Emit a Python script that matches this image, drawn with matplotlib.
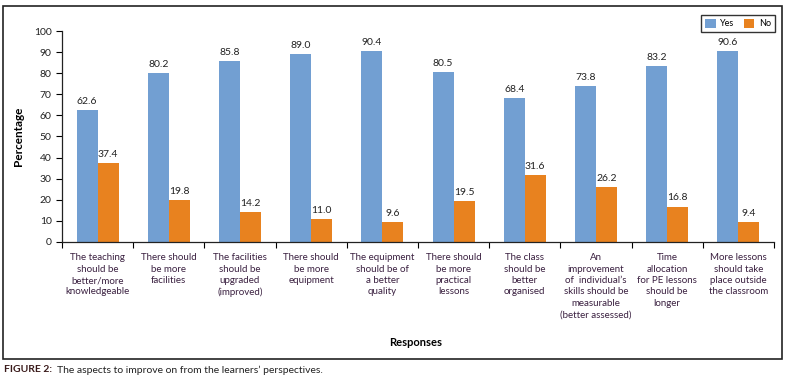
import numpy as np
from matplotlib import pyplot as plt
from matplotlib.patches import Rectangle

categories = [
    'The teaching\nshould be\nbetter/more\nknowledgeable',
    'There should\nbe more\nfacilities',
    'The facilities\nshould be\nupgraded\n(improved)',
    'There should\nbe more\nequipment',
    'The equipment\nshould be of\na better\nquality',
    'There should\nbe more\npractical\nlessons',
    'The class\nshould be\nbetter\norganised',
    'An\nimprovement\nof  individual\u2019s\nskills should be\nmeasurable\n(better assessed)',
    'Time\nallocation\nfor PE lessons\nshould be\nlonger',
    'More lessons\nshould take\nplace outside\nthe classroom',
]
yes = [62.6, 80.2, 85.8, 89.0, 90.4, 80.5, 68.4, 73.8, 83.2, 90.6]
no = [37.4, 19.8, 14.2, 11.0, 9.6, 19.5, 31.6, 26.2, 16.8, 9.4]

blue = '#729fd2'
orange = '#e8821f'
txt = '#3a2040'

plt.rcParams['font.family'] = ['Lato', 'DejaVu Sans']

fig = plt.figure(figsize=(7.91, 3.79), dpi=100)
ax = fig.add_axes([0.0784, 0.3615, 0.900, 0.5567])

x = np.arange(len(categories))
w = 0.295
b1 = ax.bar(x - w / 2, yes, w, color=blue, label='Yes')
b2 = ax.bar(x + w / 2, no, w, color=orange, label='No')

for bars, vals in ((b1, yes), (b2, no)):
    for r, v in zip(bars, vals):
        ax.annotate('%.1f' % v, (r.get_x() + r.get_width() / 2, v),
                    xytext=(0, 3), textcoords='offset points',
                    ha='center', va='bottom', fontsize=7.5, color='#222222')

ax.set_xlim(-0.5, len(categories) - 0.5)
ax.set_ylim(0, 100)
ax.set_yticks(range(0, 101, 10))
ax.set_xticks(np.arange(-0.5, len(categories), 1))
ax.set_xticklabels([])
ax.set_xticks(x, minor=True)
ax.set_xticklabels(categories, minor=True, fontsize=7, color=txt, linespacing=1.35)
ax.tick_params(axis='x', which='minor', length=0, pad=8)
ax.tick_params(axis='x', which='major', length=4, width=0.8, direction='out')
ax.tick_params(axis='y', length=4, width=0.8, labelsize=7.5, labelcolor='#222222')
for s in ('top', 'right'):
    ax.spines[s].set_visible(False)
for s in ('left', 'bottom'):
    ax.spines[s].set_linewidth(0.9)
    ax.spines[s].set_color('#222222')

ax.set_ylabel('Percentage', fontsize=8.5, fontweight='bold', labelpad=7)
fig.text(0.525, 0.097, 'Responses', ha='center', va='center', fontsize=8, fontweight='bold')

leg = fig.legend(handles=[b1, b2], loc='upper right', bbox_to_anchor=(0.985, 0.972),
                 ncol=2, fontsize=6.5, frameon=True, fancybox=False,
                 handlelength=1.2, handleheight=1.2, columnspacing=1.0,
                 handletextpad=0.5, borderpad=0.4, edgecolor='black')
leg.get_frame().set_linewidth(1.0)

fig.add_artist(Rectangle((3 / 791, 1 - 359 / 379), 779 / 791, 353 / 379,
                         transform=fig.transFigure, fill=False,
                         edgecolor='#222222', linewidth=1.2))

fig.text(0.005, 0.024, 'FIGURE 2:', fontsize=7.5, fontweight='bold', color='#3a1a1a', va='center')
fig.text(0.0715, 0.024, 'The aspects to improve on from the learners\u2019 perspectives.',
         fontsize=7.5, color='#222222', va='center')

fig.savefig('out.png', dpi=100)
